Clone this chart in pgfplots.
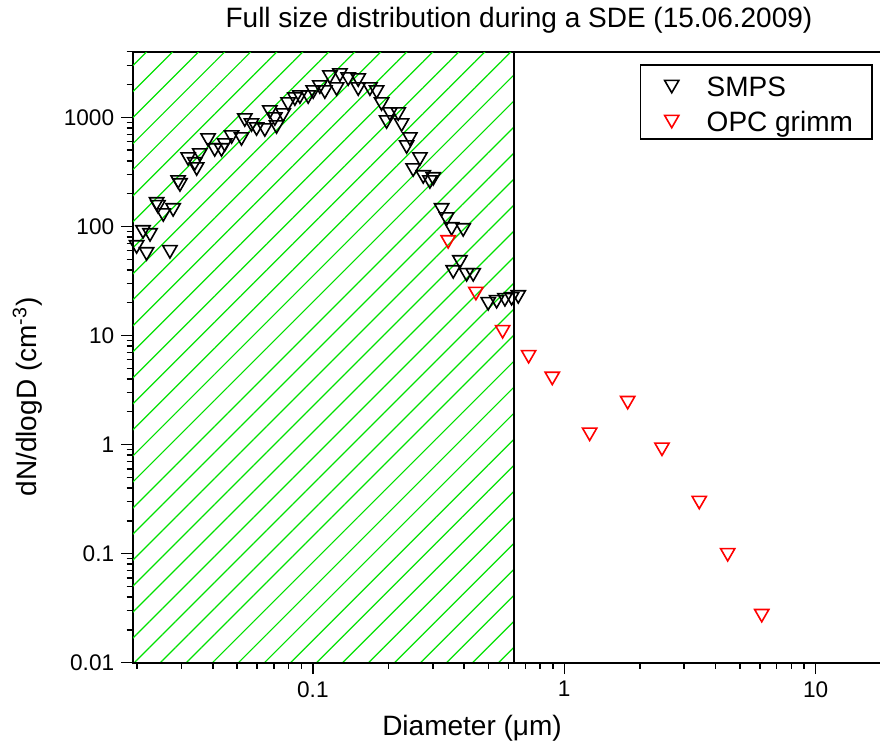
\documentclass[border=0pt]{standalone}
\usepackage{fontspec}
\setmainfont{Liberation Sans}
\usepackage{pgfplots}
\pgfplotsset{compat=1.18}
\usetikzlibrary{patterns.meta}
\definecolor{hatchgreen}{RGB}{0,225,0}
\begin{document}
\begin{tikzpicture}
\useasboundingbox (-66.35pt,-41.15pt) rectangle (373.65pt,331.35pt);
\begin{axis}[
  at={(0pt,0pt)}, anchor=south west,
  scale only axis, width=379.3pt, height=305.5pt,
  xmode=log, ymode=log,
  xmin=0.0192, xmax=20, ymin=0.01, ymax=4000,
  clip=false,
  axis line style={line width=1pt},
  tick pos=left, tick align=outside,
  major tick length=5.75pt, minor tick length=3pt,
  every tick/.style={black, line width=0.75pt},
  xtick={0.1,1,10}, ytick={0.01,0.1,1,10,100,1000},
  minor xtick={0.02,0.03,0.04,0.05,0.06,0.07,0.08,0.09,0.2,0.3,0.4,0.5,0.6,0.7,0.8,0.9,2,3,4,5,6,7,8,9},
  minor ytick={0.02,0.03,0.04,0.05,0.06,0.07,0.08,0.09,0.2,0.3,0.4,0.5,0.6,0.7,0.8,0.9,2,3,4,5,6,7,8,9,20,30,40,50,60,70,80,90,200,300,400,500,600,700,800,900,2000,3000,4000},
  log ticks with fixed point,
  /pgf/number format/1000 sep={},
  /pgf/number format/assume math mode=true,
  tick label style={font=\fontsize{11.3}{13}\selectfont},
  title={Full size distribution during a SDE (15.06.2009)},
  every axis title/.style={at={(0.5092,1.0519)}, anchor=center, font=\fontsize{14}{16}\selectfont},
  xlabel={Diameter (μm)},
  every axis x label/.style={at={(0.4473,-0.1075)}, anchor=center, font=\fontsize{14}{16}\selectfont},
  ylabel={dN/dlogD (cm\textsuperscript{-3})},
  every axis y label/.style={at={(-0.1385,0.4349)}, rotate=90, anchor=center, font=\fontsize{14}{16}\selectfont},
  legend style={at={(0.9755,0.9794)}, anchor=north east, draw=black, line width=0.75pt,
    inner xsep=7.5pt, inner ysep=1pt,
    nodes={inner sep=2pt, text height=12.6pt, text depth=0.9pt},
    font=\fontsize{14}{16}\selectfont},
  legend cell align=left,
  legend image code/.code={\path[draw=none,fill=none] (0pt,-3pt) rectangle (23.5pt,3pt); \draw[#1] plot coordinates {(8pt,0pt)};},
]
\addplot[forget plot, draw=black, line width=0.75pt,
  pattern={Lines[angle=45,distance=9.2pt,line width=0.6pt]}, pattern color=hatchgreen]
  coordinates {(0.0192,0.01) (0.631,0.01) (0.631,4000) (0.0192,4000)} -- cycle;

\addplot[only marks, black, mark=triangle, mark size=4.1pt,
  mark options={rotate=180, line width=0.8pt, draw=black, fill=none}]
coordinates {
(0.0199,67.8) (0.0211,93.1) (0.0225,87.4) (0.0218,58.5) (0.0270,61.1)
(0.0242,158) (0.0254,133) (0.0278,148) (0.0239,168) (0.0296,251) (0.0291,267)
(0.0319,434) (0.0339,391) (0.0345,351) (0.0355,472) (0.0383,648) (0.0407,525)
(0.0433,525) (0.0446,583) (0.0475,690) (0.0520,662) (0.0536,987) (0.0570,889)
(0.0597,817) (0.0644,800) (0.0674,1169) (0.0706,1009) (0.0717,852) (0.0762,1097)
(0.0797,1384) (0.0848,1538) (0.0888,1604) (0.0958,1604) (0.1003,1782) (0.1066,1980)
(0.1116,1782) (0.1169,2445) (0.1243,1898) (0.1281,2551) (0.1382,2344) (0.1515,2295)
(0.1515,1898) (0.1686,1898) (0.1793,1782) (0.1876,1384) (0.2025,1121) (0.1965,947)
(0.2185,1121) (0.2254,889) (0.2432,662) (0.2360,559) (0.2666,434) (0.2506,344)
(0.2748,297) (0.3012,285) (0.2921,267) (0.3252,148) (0.3404,122) (0.3564,99.2)
(0.3963,97.1) (0.3846,49.4) (0.3617,40.0) (0.4089,37.6) (0.4343,37.6) (0.4983,20.4)
(0.5383,21.3) (0.5808,22.2) (0.6176,22.7) (0.6561,23.6)
};
\addlegendentry{SMPS}

\addplot[only marks, red, mark=triangle, mark size=4.1pt,
  mark options={rotate=180, line width=0.8pt, draw=red, fill=none}]
coordinates {
(0.3453,75.4) (0.4452,25.3) (0.5687,11.3) (0.7217,6.67) (0.896,4.22)
(1.262,1.296) (1.788,2.53) (2.448,0.945) (3.444,0.307) (4.469,0.1019) (6.104,0.0282)
};
\addlegendentry{OPC grimm}
\end{axis}
\end{tikzpicture}
\end{document}
